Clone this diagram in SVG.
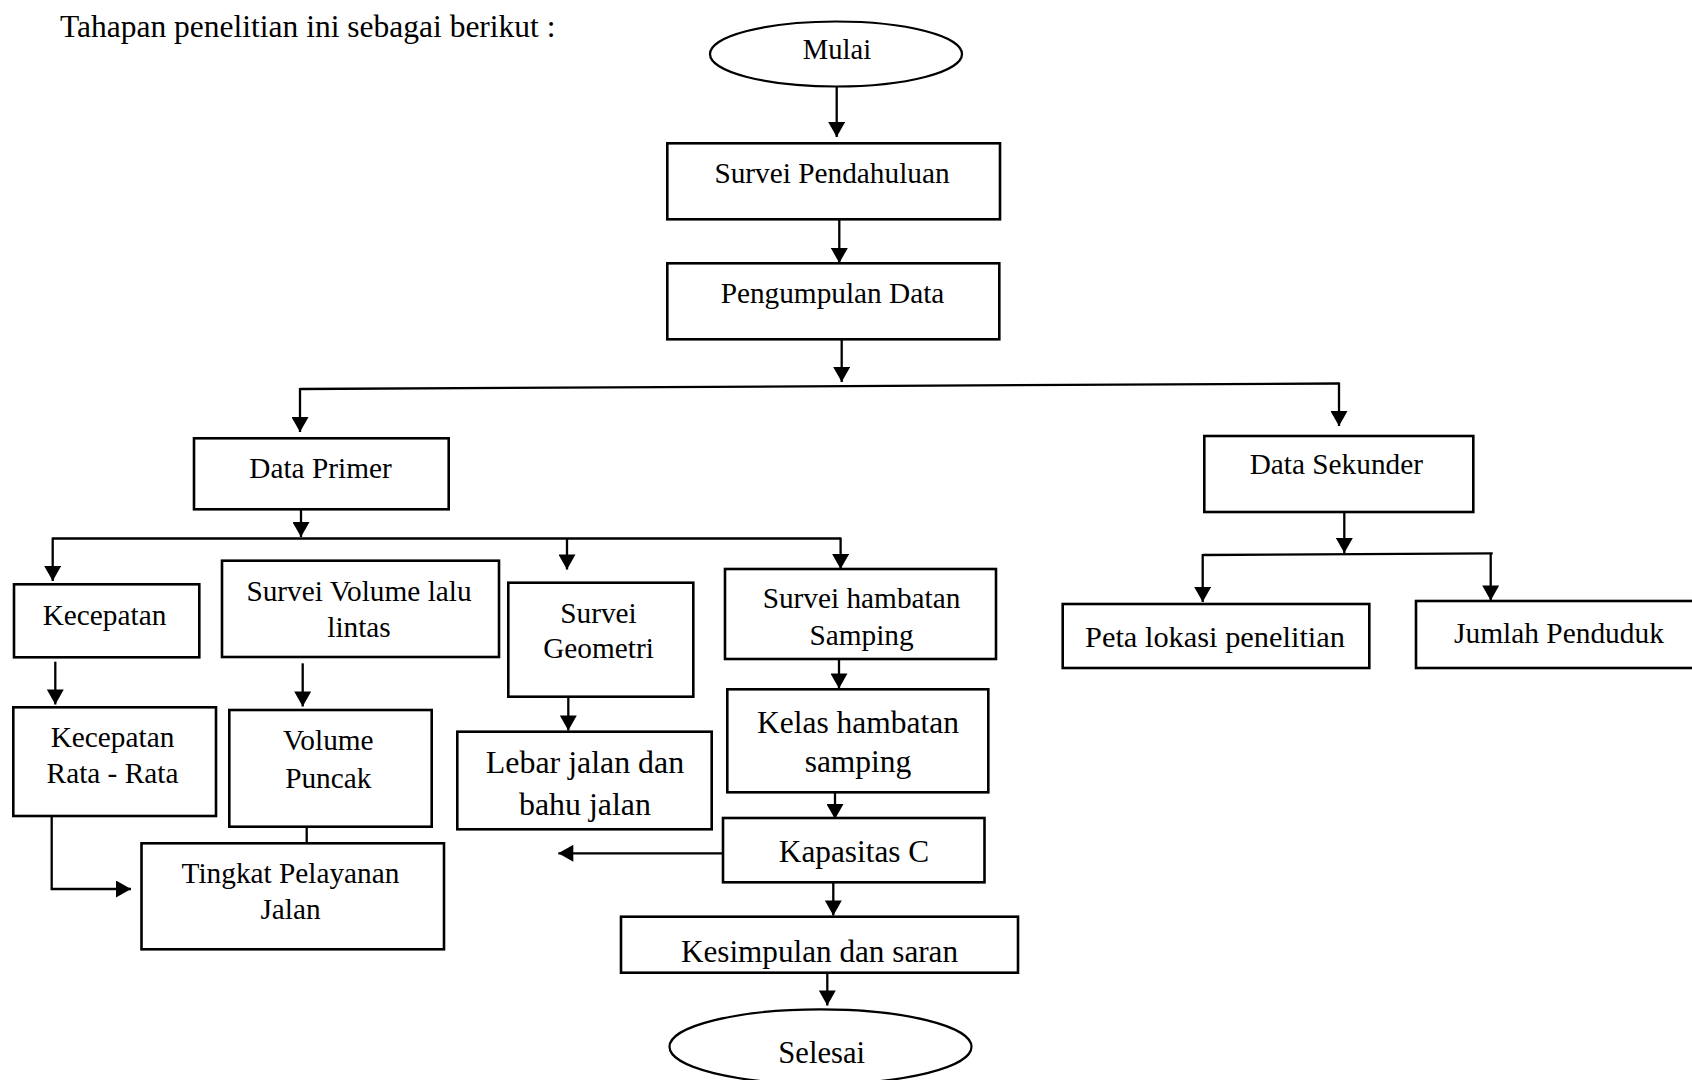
<svg xmlns="http://www.w3.org/2000/svg" width="1692" height="1080" viewBox="0 0 1692 1080">
<style>
  .box { fill: #ffffff; stroke: #000000; stroke-width: 2.6; }
  .term { fill: #ffffff; stroke: #000000; stroke-width: 2.2; }
  .conn { fill: none; stroke: #000000; stroke-width: 2.3; }
  .arr { marker-end: url(#ah); }
  text { font-family: "Liberation Serif", "Times New Roman", serif; fill: #000000; }
  .t29 { font-size: 29.3px; text-anchor: middle; }
  .t31 { font-size: 31.5px; text-anchor: middle; }
</style>
<defs>
  <marker id="ah" markerUnits="userSpaceOnUse" markerWidth="17" markerHeight="17" viewBox="0 0 15 17" refX="15" refY="8.5" orient="auto">
    <path d="M0,0 L15,8.5 L0,17 Z" fill="#000000"/>
  </marker>
</defs>
<rect width="1692" height="1080" fill="#ffffff"/>

<text x="60" y="37" style="font-size:31.5px">Tahapan penelitian ini sebagai berikut :</text>

<g id="connectors">
  <line class="conn arr" x1="836.7" y1="86" x2="836.7" y2="137"/>
  <line class="conn arr" x1="839.3" y1="219.3" x2="839.3" y2="263"/>
  <line class="conn arr" x1="841.7" y1="339.3" x2="841.7" y2="382"/>
  <line class="conn" x1="300" y1="389" x2="1339" y2="383.5"/>
  <line class="conn arr" x1="300" y1="388" x2="300" y2="432"/>
  <line class="conn arr" x1="1339" y1="382.5" x2="1339" y2="426"/>
  <line class="conn arr" x1="301" y1="509.3" x2="301" y2="537"/>
  <line class="conn" x1="52.7" y1="538.5" x2="840.6" y2="538.5"/>
  <line class="conn arr" x1="52.7" y1="537.5" x2="52.7" y2="581"/>
  <line class="conn arr" x1="840.6" y1="537.5" x2="840.6" y2="569"/>
  <line class="conn arr" x1="567" y1="538.5" x2="567" y2="569.5"/>
  <line class="conn arr" x1="55.3" y1="661.7" x2="55.3" y2="704.5"/>
  <line class="conn arr" x1="302.7" y1="663.3" x2="302.7" y2="706.5"/>
  <line class="conn" x1="306.7" y1="826.7" x2="306.7" y2="850"/>
  <polyline class="conn arr" points="51.7,810.7 51.7,889 131,889"/>
  <line class="conn arr" x1="568.3" y1="696.7" x2="568.3" y2="730.5"/>
  <line class="conn arr" x1="839" y1="659" x2="839" y2="688.5"/>
  <line class="conn arr" x1="835" y1="792.3" x2="835" y2="819"/>
  <line class="conn arr" x1="727.3" y1="853.3" x2="558.3" y2="853.3"/>
  <line class="conn arr" x1="833.3" y1="882.3" x2="833.3" y2="915.5"/>
  <line class="conn arr" x1="827.3" y1="972.7" x2="827.3" y2="1005.5"/>
  <line class="conn arr" x1="1344.3" y1="511.7" x2="1344.3" y2="553"/>
  <line class="conn" x1="1202.7" y1="555" x2="1492.7" y2="553.3"/>
  <line class="conn arr" x1="1202.7" y1="554" x2="1202.7" y2="602"/>
  <line class="conn arr" x1="1490.7" y1="553" x2="1490.7" y2="600.5"/>
</g>

<g id="mulai">
  <ellipse class="term" cx="836" cy="54" rx="126" ry="32.5"/>
  <text class="t29" x="837" y="59.3" style="font-size:28.6px">Mulai</text>
</g>
<g id="survei-pendahuluan">
  <rect class="box" x="667.3" y="143.3" width="332.7" height="76"/>
  <text class="t29" x="832" y="183.3">Survei Pendahuluan</text>
</g>
<g id="pengumpulan-data">
  <rect class="box" x="667.3" y="263.3" width="332" height="76"/>
  <text class="t29" x="832.5" y="303.3">Pengumpulan Data</text>
</g>
<g id="data-primer">
  <rect class="box" x="194" y="438.3" width="254.7" height="71"/>
  <text class="t29" x="320.5" y="478.3">Data Primer</text>
</g>
<g id="data-sekunder">
  <rect class="box" x="1204.3" y="436" width="269" height="76"/>
  <text class="t29" x="1336.3" y="474.3">Data Sekunder</text>
</g>
<g id="kecepatan">
  <rect class="box" x="14" y="584.3" width="185.3" height="73"/>
  <text class="t29" x="104.5" y="625">Kecepatan</text>
</g>
<g id="survei-volume">
  <rect class="box" x="222" y="560.7" width="277" height="96.3"/>
  <text class="t29" x="359" y="601">Survei Volume lalu</text>
  <text class="t29" x="359" y="636.7">lintas</text>
</g>
<g id="survei-geometri">
  <rect class="box" x="508.3" y="582.7" width="185" height="114"/>
  <text class="t29" x="598.5" y="622.7">Survei</text>
  <text class="t29" x="598.5" y="658.3">Geometri</text>
</g>
<g id="survei-hambatan">
  <rect class="box" x="725" y="569" width="271" height="90"/>
  <text class="t29" x="861.5" y="608.3">Survei hambatan</text>
  <text class="t29" x="861.5" y="645">Samping</text>
</g>
<g id="kecepatan-rata">
  <rect class="box" x="13.3" y="707.3" width="202.7" height="108.7"/>
  <text class="t29" x="112.5" y="747.3">Kecepatan</text>
  <text class="t29" x="112.5" y="783.3">Rata - Rata</text>
</g>
<g id="volume-puncak">
  <rect class="box" x="229.3" y="710" width="202.4" height="116.7"/>
  <text class="t29" x="328.3" y="750">Volume</text>
  <text class="t29" x="328.3" y="788.3">Puncak</text>
</g>
<g id="lebar-jalan">
  <rect class="box" x="457.3" y="731.7" width="254.4" height="97.6"/>
  <text class="t31" x="585" y="773.3" style="font-size:31.9px">Lebar jalan dan</text>
  <text class="t31" x="585" y="815" style="font-size:31.9px">bahu jalan</text>
</g>
<g id="kelas-hambatan">
  <rect class="box" x="727.3" y="689.3" width="261" height="103"/>
  <text class="t31" x="858" y="733.3">Kelas hambatan</text>
  <text class="t31" x="858" y="771.7">samping</text>
</g>
<g id="kapasitas">
  <rect class="box" x="723" y="818" width="261.5" height="64.3"/>
  <text class="t31" x="854" y="861.7" style="font-size:31.3px">Kapasitas C</text>
</g>
<g id="tingkat-pelayanan">
  <rect class="box" x="141.5" y="843.3" width="302.5" height="106"/>
  <text class="t29" x="290.5" y="883.3">Tingkat Pelayanan</text>
  <text class="t29" x="290.5" y="919.3">Jalan</text>
</g>
<g id="kesimpulan">
  <rect class="box" x="621" y="916.7" width="397" height="56"/>
  <text class="t31" x="819.5" y="961.7" style="font-size:31.2px">Kesimpulan dan saran</text>
</g>
<g id="selesai">
  <ellipse class="term" cx="820.5" cy="1046.7" rx="151" ry="37.3"/>
  <text class="t31" x="821.7" y="1063.3" style="font-size:30.6px">Selesai</text>
</g>
<g id="peta-lokasi">
  <rect class="box" x="1062.7" y="604" width="306.6" height="64"/>
  <text class="t29" x="1215" y="647.3" style="font-size:30.4px">Peta lokasi penelitian</text>
</g>
<g id="jumlah-penduduk">
  <rect class="box" x="1416" y="601" width="300" height="67"/>
  <text class="t29" x="1559" y="642.7" style="font-size:29.4px">Jumlah Penduduk</text>
</g>
</svg>
